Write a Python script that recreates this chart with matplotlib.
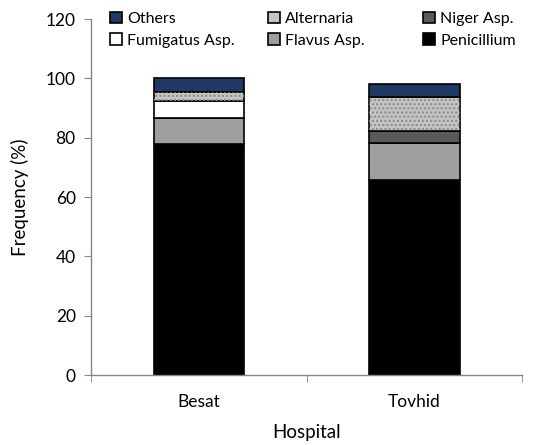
import matplotlib
matplotlib.use("Agg")
import matplotlib.pyplot as plt
import numpy as np

plt.rcParams['font.family'] = ['Lato', 'DejaVu Sans']

hospitals = ["Besat", "Tovhid"]
series_names = ["Penicillium", "Flavus Asp.", "Niger Asp.", "Fumigatus Asp.", "Alternaria", "Others"]
penicillium = [78.0, 65.7]
flavus = [8.5, 12.6]
niger = [0.0, 4.0]
fumigatus = [5.9, 0.0]
alternaria = [3.1, 11.3]
others = [4.5, 4.5]
yticks = [0, 20, 40, 60, 80, 100, 120]

values = [penicillium, flavus, niger, fumigatus, alternaria, others]
colors = ["#000000", "#9e9e9e", "#5a5a5a", "#ffffff", "#c4c4c4", "#1f3864"]

fig = plt.figure(figsize=(5.44, 4.45), dpi=100)
ax = fig.add_axes([0.1673, 0.1573, 0.7923, 0.7997])

x = np.arange(len(hospitals))
width = 0.42
bottom = np.zeros(len(hospitals))
handles = {}
for name, vals, c in zip(series_names, values, colors):
    vals = np.array(vals)
    b = ax.bar(x, vals, width, bottom=bottom, color=c, edgecolor="#000000", linewidth=1.2, zorder=2)
    if name == "Alternaria":
        ax.bar(x, vals, width, bottom=bottom, color="none", edgecolor="#8a8a8a", linewidth=0,
               hatch="....", zorder=3)
    handles[name] = b
    bottom += vals

ax.set_xlim(-0.5, 1.5)
ax.set_ylim(0, 120)
ax.set_yticks(yticks)
ax.set_xticks(x)
ax.set_xticklabels(hospitals, fontsize=12.5)
ax.set_xticks([-0.5, 0.5, 1.5], minor=True)
ax.tick_params(axis='x', which='major', length=0, pad=14)
ax.tick_params(axis='x', which='minor', length=5, color="#868686", direction='out')
ax.tick_params(axis='y', length=5, color="#868686", direction='out', labelsize=12.5, pad=6)
for s in ["top", "right"]:
    ax.spines[s].set_visible(False)
for s in ["left", "bottom"]:
    ax.spines[s].set_color("#868686")
    ax.spines[s].set_linewidth(1.0)
ax.set_ylabel("Frequency (%)", fontsize=13.5, labelpad=12)
ax.set_xlabel("Hospital", fontsize=13.5, labelpad=10)

columns = [["Others", "Fumigatus Asp."], ["Alternaria", "Flavus Asp."], ["Niger Asp.", "Penicillium"]]
col_x = [104 / 544, 262 / 544, 417 / 544]
for names, cx in zip(columns, col_x):
    leg = fig.legend([handles[n] for n in names], names, ncol=1, loc="upper left",
                     bbox_to_anchor=(cx, 0.988), frameon=False, fontsize=11.5,
                     handlelength=0.75, handleheight=0.75, handletextpad=0.3,
                     labelspacing=0.45, borderaxespad=0)

fig.savefig("out.png", dpi=100)
